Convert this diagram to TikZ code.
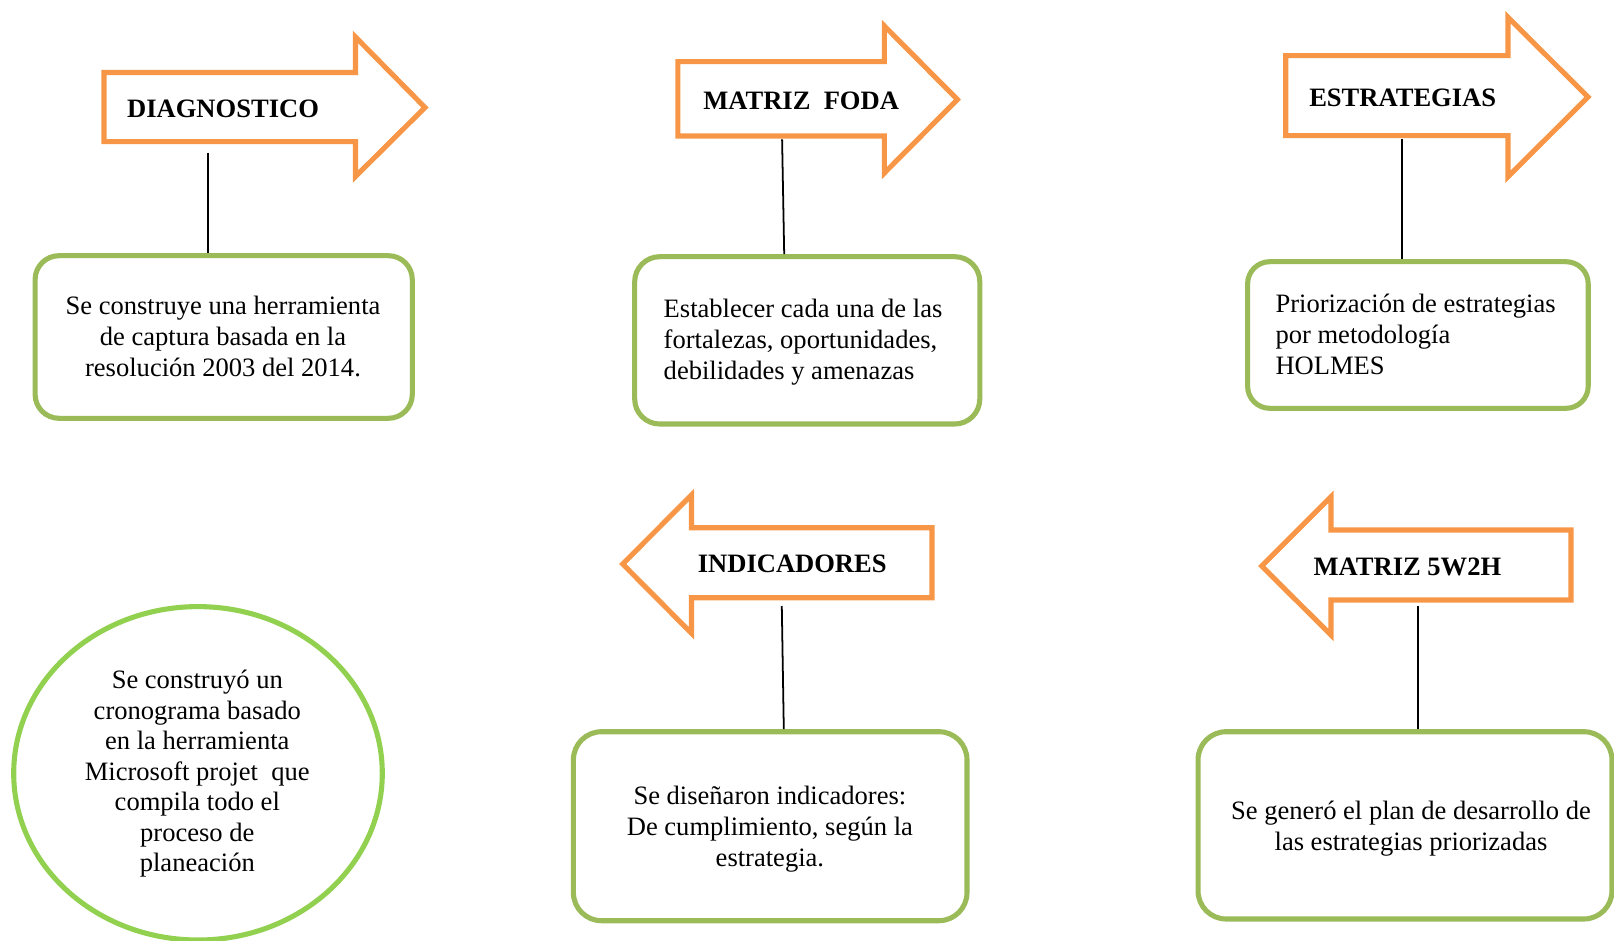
\documentclass[tikz,border=0pt]{standalone}
\usepackage{fontspec}
\setmainfont{Liberation Serif}
\usetikzlibrary{shapes.geometric}
\definecolor{orangeA}{HTML}{F79646}
\definecolor{greenA}{HTML}{9BBB59}
\definecolor{greenB}{HTML}{92D050}
\begin{document}
\begin{tikzpicture}[x=0.452pt,y=-0.452pt,
  arrowshape/.style={draw=orangeA,line width=2.3pt},
  lbl/.style={font=\fontsize{12}{13.8}\selectfont\bfseries,inner sep=0pt},
  box/.style={draw=greenA,line width=2.3pt,rectangle,inner sep=0pt},
  boxsize/.style 2 args={minimum width={#1*0.452pt},minimum height={#2*0.452pt}},
  txt/.style={font=\fontsize{12}{13.8}\selectfont,inner sep=0pt},
  link/.style={draw=black,line width=0.8pt}]

\useasboundingbox (0,0) rectangle (1614,941);

% ---- arrows ----
\draw[arrowshape] (104,72.5) -- (355.5,72.5) -- (355.5,37) -- (425,107.5) -- (355.5,176.5) -- (355.5,141.7) -- (104,141.7) -- cycle;
\draw[arrowshape] (677.8,61.7) -- (884.4,61.7) -- (884.4,26) -- (957.4,99.5) -- (884.4,173) -- (884.4,136) -- (677.8,136) -- cycle;
\draw[arrowshape] (1285.7,55.7) -- (1508,55.7) -- (1508,17.3) -- (1588,97) -- (1508,176.7) -- (1508,135.7) -- (1285.7,135.7) -- cycle;
\draw[arrowshape] (932,527.7) -- (691.5,527.7) -- (691.5,495) -- (622.7,564) -- (691.5,633.3) -- (691.5,597.7) -- (932,597.7) -- cycle;
\draw[arrowshape] (1571,530) -- (1331,530) -- (1331,496.7) -- (1261.7,566) -- (1331,635) -- (1331,600) -- (1571,600) -- cycle;

\node[lbl,anchor=base west] (a1) at (126.7,117.3) {DIAGNOSTICO};
\node[lbl,anchor=base west] (a2) at (702.9,109) {MATRIZ\ \ FODA};
\node[lbl,anchor=base west] (a3) at (1308.8,106) {ESTRATEGIAS};
\node[lbl,anchor=base west] (a4) at (697.4,572.7) {INDICADORES};
\node[lbl,anchor=base west] (a5) at (1313.2,575) {MATRIZ 5W2H};

% ---- boxes ----
\node[box,rounded corners=10.8pt,boxsize={377.2}{162.6}] (b1) at (223.7,337) {};
\node[box,rounded corners=11.3pt,boxsize={345.1}{167.3}] (b2) at (807.25,340.35) {};
\node[box,rounded corners=10pt,boxsize={340.6}{146.6}] (b3) at (1417.9,335) {};
\node[box,rounded corners=12.7pt,boxsize={393.6}{189}] (b4) at (770.2,826.2) {};
\node[box,rounded corners=12.7pt,boxsize={413.9}{187.3}] (b5) at (1405,825.35) {};
\node[draw=greenB,line width=2.3pt,ellipse,inner sep=0pt,boxsize={368.6}{333.4}] (b6) at (198,773.3) {};

% ---- texts (anchor = baseline of the last line) ----
\node[txt,align=center,anchor=base] (t1) at (223,376) {Se construye una herramienta\\de captura basada en la\\resolución 2003 del 2014.};
\node[txt,align=left,anchor=base west] (t2) at (663.3,379) {Establecer cada una de las\\fortalezas, oportunidades,\\debilidades y amenazas};
\node[txt,align=left,anchor=base west] (t3) at (1275.1,374) {Priorización de estrategias\\por metodología\\HOLMES};
\node[txt,align=center,anchor=base] (t4) at (769.9,866) {Se diseñaron indicadores:\\De cumplimiento, según la\\estrategia.};
\node[txt,align=center,anchor=base] (t5) at (1411,850) {Se generó el plan de desarrollo de\\las estrategias priorizadas};
\node[txt,align=center,anchor=base] (t6) at (197.3,871.7) {Se construyó un\\cronograma basado\\en la herramienta\\Microsoft projet\ \ que\\compila todo el\\proceso de\\planeación};

% ---- connectors ----
\coordinate (c1) at (208,152.7);
\coordinate (c2) at (782.1,139.3);
\coordinate (c3) at (1402.3,139.3);
\coordinate (c4) at (781.8,606);
\coordinate (c5) at (1418,606);
\draw[link] (c1) -- (c1 |- b1.north);
\draw[link] (c2) -- (784.2,0 |- b2.north);
\draw[link] (c3) -- (c3 |- b3.north);
\draw[link] (c4) -- (783.8,0 |- b4.north);
\draw[link] (c5) -- (c5 |- b5.north);
\end{tikzpicture}
\end{document}
